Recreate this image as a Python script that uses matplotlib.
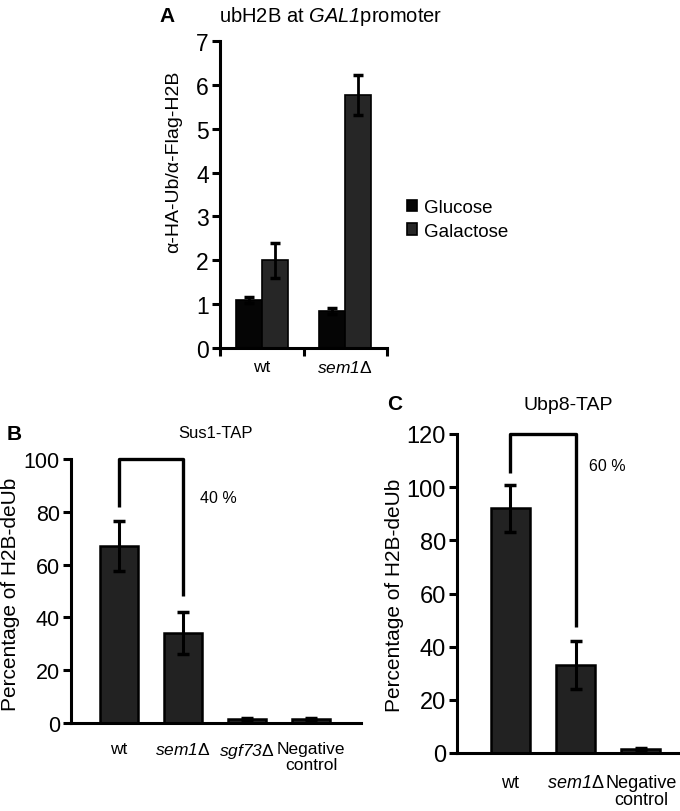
import matplotlib
matplotlib.use("Agg")
import matplotlib.pyplot as plt
import numpy as np

plt.rcParams['font.family'] = ['Liberation Sans', 'DejaVu Sans']
plt.rcParams['mathtext.fontset'] = 'custom'
# math text is only used for italic gene names, so the roman math font is the italic face
plt.rcParams['mathtext.rm'] = 'Liberation Sans:italic'
plt.rcParams['mathtext.it'] = 'Liberation Sans:italic'
plt.rcParams['mathtext.bf'] = 'Liberation Sans:bold'
plt.rcParams['mathtext.default'] = 'rm'

# ---------------- data ----------------
a_groups = [r'wt', r'$\mathrm{sem1}$Δ']
a_glucose = [1.09, 0.84]
a_glucose_err = [0.07, 0.07]
a_galactose = [2.00, 5.77]
a_galactose_err = [0.40, 0.45]
a_series = ['Glucose', 'Galactose']

b_labels = ['wt', r'$\mathrm{sem1}$Δ', r'$\mathrm{sgf73}$Δ', 'Negative\ncontrol']
b_values = [67, 34, 1.5, 1.5]
b_err = [9.5, 8, 0.4, 0.4]
b_bracket = [82, 100, 48]
b_pct = '40 %'

c_labels = ['wt', r'$\mathrm{sem1}$Δ', 'Negative\ncontrol']
c_values = [92, 33, 1.5]
c_err = [9, 9, 0.4]
c_bracket = [105.5, 120, 47.5]
c_pct = '60 %'

W, H = 680, 812
fig = plt.figure(figsize=(W / 100, H / 100), dpi=100)


def px_axes(l, r, t, b):
    ax = fig.add_axes([l / W, 1 - b / H, (r - l) / W, (b - t) / H])
    ax._px = (l, r, t, b)
    return ax


def style(ax, lw=2.2):
    for s in ['top', 'right']:
        ax.spines[s].set_visible(False)
    for s in ['left', 'bottom']:
        ax.spines[s].set_linewidth(lw)
    ax.tick_params(axis='y', direction='out', length=6, width=lw)


def ylabel_at(ax, text, size, xr, yc):
    l, r, t, b = ax._px
    ax.set_ylabel(text, fontsize=size)
    ax.yaxis.set_label_coords((xr - l) / (r - l), (b - yc) / (b - t))


# ---------------- Panel A ----------------
axA = px_axes(220, 387, 42, 349)
style(axA)
xA = np.array([0.5, 1.5])
bw = 0.31
axA.bar(xA - bw / 2, a_glucose, bw, color='#050505', edgecolor='black',
        linewidth=1.2, label=a_series[0], zorder=2)
axA.bar(xA + bw / 2, a_galactose, bw, color='#262626', edgecolor='black',
        linewidth=1.2, label=a_series[1], zorder=2)
axA.errorbar(xA - bw / 2, a_glucose, yerr=a_glucose_err, fmt='none', ecolor='black',
             elinewidth=2, capsize=3.5, capthick=2.5, zorder=3)
axA.errorbar(xA + bw / 2, a_galactose, yerr=a_galactose_err, fmt='none', ecolor='black',
             elinewidth=2, capsize=3.5, capthick=2.5, zorder=3)
axA.set_xlim(0, 2)
axA.set_ylim(0, 7)
axA.set_yticks(range(0, 8))
axA.tick_params(axis='y', labelsize=16.5, pad=2)
axA.set_xticks([0, 1, 2])
axA.set_xticklabels([])
axA.tick_params(axis='x', which='major', direction='out', length=6, width=2.2)
axA.set_xticks(xA, minor=True)
axA.set_xticklabels(a_groups, minor=True, fontsize=12.5)
axA.tick_params(axis='x', which='minor', length=0, pad=8)
ylabel_at(axA, 'α-HA-Ub/α-Flag-H2B', 14, 182, 162)
fig.text(219 / W, 1 - 17 / H, r'ubH2B at $\mathrm{GAL1}$promoter', fontsize=14.5,
         ha='left', va='center')
fig.text(167 / W, 1 - 17 / H, 'A', fontsize=15, fontweight='bold', ha='center', va='center')
axA.legend(loc='upper left', bbox_to_anchor=(407 / W, 1 - 200 / H),
           bbox_transform=fig.transFigure, frameon=False, fontsize=13.5,
           handlelength=0.55, handleheight=0.55, handletextpad=0.35,
           labelspacing=0.35, borderpad=0, borderaxespad=0)

# ---------------- Panel B ----------------
axB = px_axes(71, 361, 460, 724)
style(axB)
xB = np.arange(len(b_values))
axB.bar(xB, b_values, 0.6, color='#222222', edgecolor='black', linewidth=1.8, zorder=2)
axB.errorbar(xB, b_values, yerr=b_err, fmt='none', ecolor='black',
             elinewidth=2.2, capsize=4, capthick=2.5, zorder=3)
axB.set_xlim(-0.75, 3.78)
axB.set_ylim(0, 100)
axB.set_yticks(range(0, 101, 20))
axB.tick_params(axis='y', labelsize=15.5, pad=2)
axB.set_xticks(xB)
axB.set_xticklabels(b_labels, fontsize=12.5, linespacing=1.05)
axB.tick_params(axis='x', length=0, pad=13)
ylabel_at(axB, 'Percentage of H2B-deUb', 15, 20, 594)
axB.plot([xB[0], xB[0], xB[1], xB[1]], [b_bracket[0], b_bracket[1], b_bracket[1], b_bracket[2]],
         color='black', lw=2.4, clip_on=False, solid_capstyle='butt', zorder=4)
axB.text(1.27, 85.6, b_pct, fontsize=11.5, ha='left', va='center')
axB.set_title('Sus1-TAP', fontsize=12, pad=16)
fig.text(14 / W, 1 - 435 / H, 'B', fontsize=15, fontweight='bold', ha='center', va='center')

# ---------------- Panel C ----------------
axC = px_axes(457, 680, 435, 754)
style(axC)
xC = np.arange(len(c_values))
axC.bar(xC, c_values, 0.6, color='#222222', edgecolor='black', linewidth=1.8, zorder=2)
axC.errorbar(xC, c_values, yerr=c_err, fmt='none', ecolor='black',
             elinewidth=2.2, capsize=4, capthick=2.5, zorder=3)
axC.set_xlim(-0.815, 2.6)
axC.set_ylim(0, 120)
axC.set_yticks(range(0, 121, 20))
axC.tick_params(axis='y', labelsize=17, pad=2)
axC.set_xticks(xC)
axC.set_xticklabels(c_labels, fontsize=13, linespacing=1.05)
axC.tick_params(axis='x', length=0, pad=15)
ylabel_at(axC, 'Percentage of H2B-deUb', 15, 404, 595)
axC.plot([xC[0], xC[0], xC[1], xC[1]], [c_bracket[0], c_bracket[1], c_bracket[1], c_bracket[2]],
         color='black', lw=2.4, clip_on=False, solid_capstyle='butt', zorder=4)
axC.text(1.2, 108, c_pct, fontsize=11.5, ha='left', va='center')
axC.set_title('Ubp8-TAP', fontsize=14, pad=18)
fig.text(395 / W, 1 - 405 / H, 'C', fontsize=15, fontweight='bold', ha='center', va='center')

fig.savefig('out.png', dpi=100)
